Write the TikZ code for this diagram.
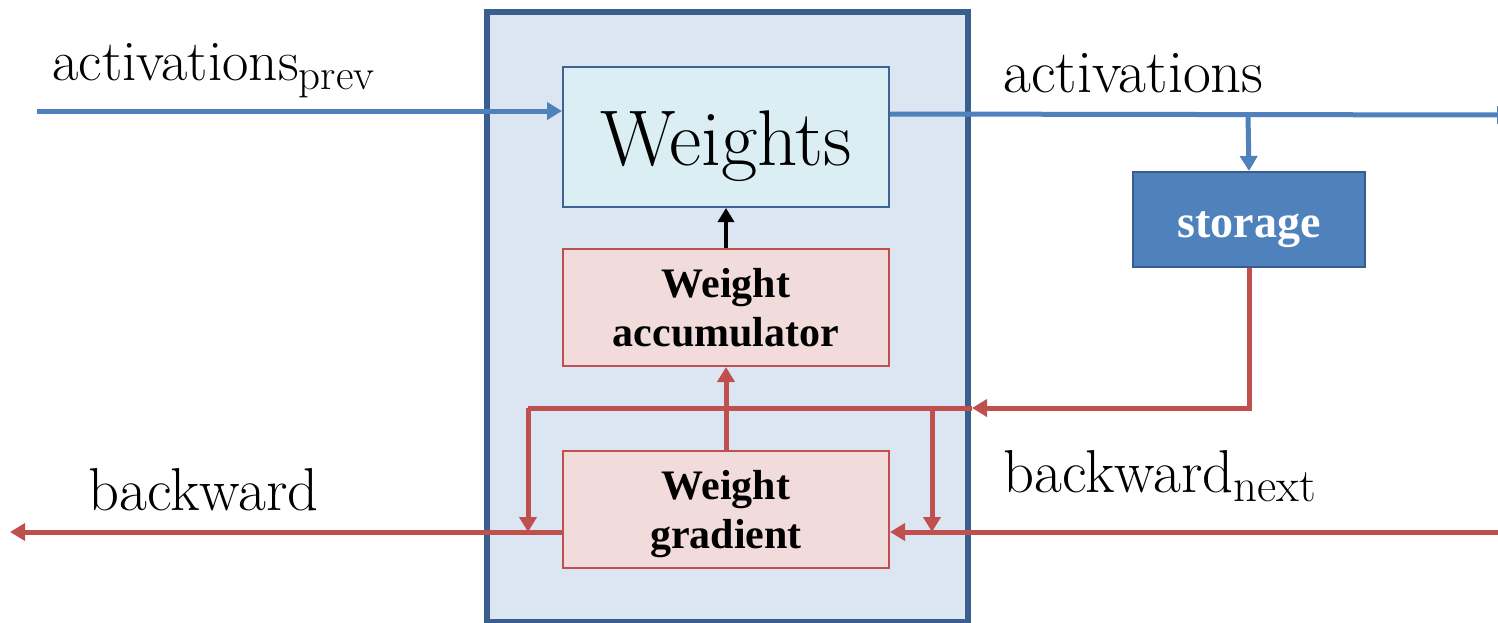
\documentclass[tikz,border=0pt]{standalone}
\usepackage{fontspec}
\newfontfamily\lblfont{Liberation Serif}
\usetikzlibrary{arrows.meta}
\definecolor{outerfill}{HTML}{DCE6F2}
\definecolor{outerdraw}{HTML}{3A5F8F}
\definecolor{wfill}{HTML}{DBEEF4}
\definecolor{wdraw}{HTML}{3C6396}
\definecolor{rfill}{HTML}{F2DCDB}
\definecolor{rdraw}{HTML}{C0504D}
\definecolor{bline}{HTML}{4F81BD}
\definecolor{sdraw}{HTML}{385D8A}
\newcommand{\mysub}[2]{\raisebox{-4.5pt}{\fontsize{#1}{#1}\selectfont #2}}
\begin{document}
\begin{tikzpicture}[x=0.5pt,y=-0.5pt,
  outerbox/.style={draw=outerdraw,fill=outerfill,line width=2.6pt,minimum width=240.5pt,minimum height=305pt,inner sep=0pt},
  wbox/.style={draw=wdraw,fill=wfill,line width=1pt,minimum width=163pt,minimum height=70pt,inner sep=0pt,text height=30pt,text depth=2pt,font=\fontsize{39.5}{46}\selectfont},
  rbox/.style={draw=rdraw,fill=rfill,line width=1pt,minimum width=163pt,minimum height=58.5pt,inner sep=0pt,align=center,text depth=0pt,font=\lblfont\bfseries\fontsize{21}{24.5}\selectfont},
  sbox/.style={draw=sdraw,fill=bline,line width=1pt,minimum width=116pt,minimum height=47.5pt,inner sep=0pt,text height=17.5pt,text depth=0pt,text=white,font=\lblfont\bfseries\fontsize{23}{26}\selectfont},
  lbl/.style={anchor=base west,inner sep=0pt,font=\fontsize{30.3}{34}\selectfont},
  barrow/.style={draw=bline,line width=2.5pt,-{Triangle[length=7.5pt,width=8.5pt]}},
  rarrow/.style={draw=rdraw,line width=2.5pt,-{Triangle[length=7.5pt,width=8.5pt]}},
  rplain/.style={draw=rdraw,line width=2.5pt},
  karrow/.style={draw=black,line width=2.4pt,-{Triangle[length=7pt,width=8pt]}}
]
\useasboundingbox (0,0) rectangle (1498,622);
\node[outerbox] (outer) at (727.5,317) {};
\node[wbox] (wt) at (726,137) {Weights};
\node[rbox] (acc) at (726,307.5) {Weight\\accumulator};
\node[rbox] (grad) at (726,509.5) {Weight\\gradient};
\node[sbox] (st) at (1249,219.5) {storage};

\node[lbl,font=\fontsize{28.7}{32}\selectfont] (lap) at (52,80) {activations\mysub{21.5}{prev}};
\node[lbl] (la) at (1003,92) {activations};
\node[lbl] (lb) at (88,510) {backward};
\node[lbl] (lbn) at (1003,492) {backward\mysub{23.5}{next}};

\coordinate (ap) at (37,111);
\coordinate (ae) at (1512,115);
\coordinate (sp) at (1248,115);
\coordinate (sc) at (1249,408);
\coordinate (sa) at (972,408);
\coordinate (ls) at (528,408);
\coordinate (rs) at (932,408);
\coordinate (bn) at (1500,532);
\coordinate (be) at (10,532);

\draw[barrow] (ap) -- (ap -| wt.west);
\draw[barrow] (wt.east |- 0,114) -- (ae);
\draw[barrow] (sp) -- (st.north);

\draw[rarrow] (st.south) -- (sc) -- (sa);
\draw[rplain] (sa) -- (ls);
\draw[rarrow] (ls) -- (ls |- bn);
\draw[rarrow] (rs) -- (rs |- bn);
\draw[rarrow] (bn) -- (bn -| grad.east);
\draw[rarrow] (bn -| grad.west) -- (be);
\draw[rarrow] (grad.north) -- (acc.south);
\draw[karrow] (acc.north) -- (wt.south);
\end{tikzpicture}
\end{document}
